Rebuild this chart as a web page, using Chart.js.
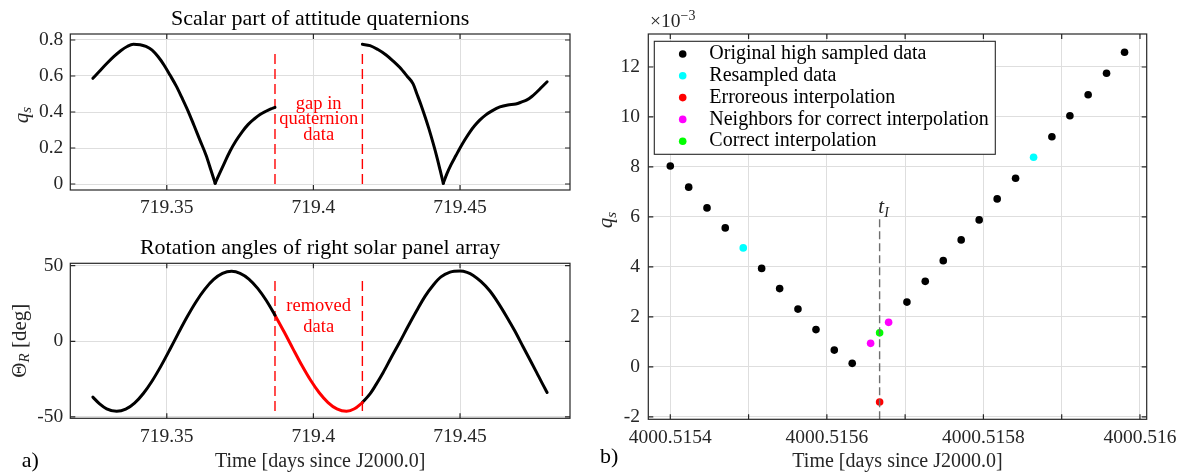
<!DOCTYPE html>
<html>
<head>
<meta charset="utf-8">
<script src="https://cdn.jsdelivr.net/npm/chart.js@4.4.1/dist/chart.umd.min.js"></script>
<style>
  html, body { margin: 0; padding: 0; background: #fff; }
  body { width: 1185px; height: 474px; position: relative; overflow: hidden; }
  .panel { position: absolute; }
</style>
</head>
<body>
<div class="panel" style="left:0;top:0"><canvas id="qsChart" width="600" height="225"></canvas></div>
<div class="panel" style="left:0;top:225px"><canvas id="angChart" width="600" height="249"></canvas></div>
<div class="panel" style="left:580px;top:0"><canvas id="zoomChart" width="605" height="474"></canvas></div>
<script>
const FONT = 'Liberation Serif';
const INK = '#262626';
const GRID = '#dedede';

// ---------- a) upper: scalar part of attitude quaternion (two pieces around the gap)
const qsTimeA = [719.3248, 719.3273, 719.3297, 719.3321, 719.3344, 719.3365, 719.3386, 719.3409,
  719.3429, 719.3450, 719.3470, 719.3491, 719.3511, 719.3532, 719.3552, 719.3573, 719.3593, 719.3613,
  719.3634, 719.3651, 719.3665, 719.3679, 719.3696, 719.3716, 719.3736, 719.3757, 719.3777, 719.3798,
  719.3818, 719.3838, 719.3855, 719.3869];
const qsValA = [0.587, 0.631, 0.672, 0.710, 0.742, 0.764, 0.776, 0.774, 0.764, 0.744, 0.708, 0.660,
  0.605, 0.545, 0.478, 0.404, 0.325, 0.244, 0.160, 0.075, 0.004, 0.055, 0.115, 0.183, 0.240, 0.290,
  0.330, 0.361, 0.386, 0.404, 0.417, 0.426];
const qsTimeB = [719.4167, 719.4193, 719.4220, 719.4248, 719.4272, 719.4295, 719.4319, 719.4340,
  719.4353, 719.4367, 719.4381, 719.4394, 719.4408, 719.4422, 719.4432, 719.4443, 719.4455, 719.4469,
  719.4486, 719.4500, 719.4517, 719.4534, 719.4551, 719.4568, 719.4588, 719.4609, 719.4636, 719.4663,
  719.4690, 719.4711, 719.4728, 719.4745, 719.4762, 719.4779, 719.4797];
const qsValB = [0.776, 0.769, 0.747, 0.717, 0.683, 0.647, 0.600, 0.556, 0.500, 0.439, 0.372, 0.306,
  0.228, 0.144, 0.078, 0.004, 0.056, 0.106, 0.158, 0.200, 0.247, 0.290, 0.326, 0.356, 0.384, 0.406,
  0.428, 0.439, 0.444, 0.456, 0.467, 0.486, 0.511, 0.539, 0.568];
// index of the cusp (|q_s| touches zero) in each piece
const cuspA = 20;
const cuspB = 15;

// ---------- a) lower: rotation angle of right solar array
const angTimeA = [719.3248, 719.3270, 719.3295, 719.3329, 719.3360, 719.3390, 719.3420, 719.3450,
  719.3480, 719.3510, 719.3540, 719.3570, 719.3600, 719.3630, 719.3660, 719.3690, 719.3721, 719.3750,
  719.3780, 719.3810, 719.3840, 719.3869];
const angValA = [-36.9, -41.2, -44.6, -46.3, -44.9, -40.9, -34.5, -26.2, -16.4, -5.6, 5.6, 16.4,
  26.2, 34.5, 40.9, 44.9, 46.3, 45.0, 41.2, 35.0, 26.8, 17.3];
const angTimeGap = [719.3869, 719.3900, 719.3930, 719.3960, 719.3990, 719.4020, 719.4050, 719.4080,
  719.4113, 719.4140, 719.4167];
const angValGap = [17.3, 6.3, -4.8, -15.7, -25.6, -34.0, -40.5, -44.7, -46.3, -44.6, -40.5];
const angTimeB = [719.4167, 719.4193, 719.4213, 719.4238, 719.4264, 719.4295, 719.4322, 719.4352,
  719.4380, 719.4409, 719.4435, 719.4466, 719.4500, 719.4524, 719.4545, 719.4571, 719.4602, 719.4629,
  719.4659, 719.4687, 719.4715, 719.4738, 719.4761, 719.4779, 719.4797];
const angValB = [-40.5, -34.8, -28.8, -20.6, -11.2, -0.3, 9.6, 20.2, 29.6, 37.3, 42.6, 45.8, 46.5,
  45.6, 43.6, 39.6, 33.3, 25.8, 16.3, 6.8, -3.6, -12.0, -20.5, -27.3, -33.8];

const gapStart = 719.3869;
const gapEnd = 719.4167;

const timeTicksA = [719.35, 719.4, 719.45];
const timeLabelsA = ['719.35', '719.4', '719.45'];
const qsTicks = [0, 0.2, 0.4, 0.6, 0.8];
const qsLabels = ['0', '0.2', '0.4', '0.6', '0.8'];
const angTicks = [-50, 0, 50];
const angLabels = ['-50', '0', '50'];

// ---------- b) zoom around the interpolation time (q_s in units of 1e-3)
const origTime = [4000.5154000, 4000.5154235, 4000.5154469, 4000.5154702, 4000.5155167, 4000.5155397,
  4000.5155631, 4000.5155861, 4000.5156095, 4000.5156324, 4000.5157023, 4000.5157257, 4000.5157487,
  4000.5157716, 4000.5157946, 4000.5158176, 4000.5158411, 4000.5158875, 4000.5159105, 4000.5159338,
  4000.5159573, 4000.5159803];
const origVal = [8.04, 7.19, 6.36, 5.56, 3.94, 3.13, 2.31, 1.49, 0.67, 0.14, 2.59, 3.42, 4.25,
  5.08, 5.88, 6.72, 7.55, 9.21, 10.05, 10.89, 11.75, 12.59];
const resTime = [4000.5154932, 4000.5158641];
const resVal = [4.76, 8.39];
const badTime = [4000.5156674];
const badVal = [-1.41];
const nbTime = [4000.5156559, 4000.5156789];
const nbVal = [0.94, 1.78];
const goodTime = [4000.5156674];
const goodVal = [1.36];
const tI = 4000.5156674;

const timeTicksB = [4000.5154, 4000.5155, 4000.5156, 4000.5157, 4000.5158, 4000.5159, 4000.516];
const timeLabelsB = ['4000.5154', '', '4000.5156', '', '4000.5158', '', '4000.516'];
const zoomTicks = [-2, 0, 2, 4, 6, 8, 10, 12];
const zoomLabels = ['-2', '0', '2', '4', '6', '8', '10', '12'];

const pts = (xs, ys) => xs.map((x, i) => ({x: x, y: ys[i]}));

function axis(min, max, ticks, labels, pad, fit) {
  return {
    type: 'linear', min: min, max: max,
    afterBuildTicks: s => { s.ticks = ticks.map(v => ({value: v})); },
    afterFit: fit,
    ticks: {
      autoSkip: false, maxRotation: 0, color: INK, padding: pad,
      font: {family: FONT, size: 19.5},
      callback: (v, i) => labels[i]
    },
    grid: {color: GRID, drawTicks: false, lineWidth: 1},
    border: {display: false}
  };
}

function rich(ctx, x, y, parts, opt) {
  opt = opt || {};
  ctx.save();
  ctx.translate(x, y);
  if (opt.rotate) ctx.rotate(opt.rotate);
  ctx.textBaseline = 'middle';
  ctx.textAlign = 'left';
  ctx.fillStyle = opt.color || INK;
  let w = 0;
  parts.forEach(p => { ctx.font = p.font; w += ctx.measureText(p.text).width; });
  let cx = opt.align === 'left' ? 0 : -w / 2;
  parts.forEach(p => {
    ctx.font = p.font;
    ctx.fillText(p.text, cx, p.dy || 0);
    cx += ctx.measureText(p.text).width;
  });
  ctx.restore();
}
const f = (size, style) => (style ? style + ' ' : '') + size + 'px "' + FONT + '"';

// box round the axes with inward ticks on all four sides (matlab look)
const frame = {
  id: 'frame',
  afterDatasetsDraw(chart) {
    const {ctx, chartArea: a, scales} = chart;
    ctx.save();
    ctx.strokeStyle = INK;
    ctx.lineWidth = 1.2;
    ctx.beginPath();
    scales.x.ticks.forEach(t => {
      const px = scales.x.getPixelForValue(t.value);
      ctx.moveTo(px, a.bottom); ctx.lineTo(px, a.bottom - 5);
      ctx.moveTo(px, a.top); ctx.lineTo(px, a.top + 5);
    });
    scales.y.ticks.forEach(t => {
      const py = scales.y.getPixelForValue(t.value);
      ctx.moveTo(a.left, py); ctx.lineTo(a.left + 5, py);
      ctx.moveTo(a.right, py); ctx.lineTo(a.right - 5, py);
    });
    ctx.stroke();
    ctx.strokeRect(a.left, a.top, a.right - a.left, a.bottom - a.top);
    ctx.restore();
  }
};

function curve(data, color, width) {
  return {data: data, showLine: true, borderColor: color, borderWidth: width, pointRadius: 0,
    cubicInterpolationMode: 'monotone', borderJoinStyle: 'round', borderCapStyle: 'round'};
}
function dashed(x, y0, y1, color, dash) {
  return {data: [{x: x, y: y0}, {x: x, y: y1}], showLine: true, borderColor: color,
    borderWidth: 1.4, borderDash: dash, pointRadius: 0};
}
function dots(label, xs, ys, color) {
  return {label: label, data: pts(xs, ys), showLine: false, pointRadius: 3.8,
    pointBackgroundColor: color, pointBorderColor: color, pointBorderWidth: 0};
}

const common = {
  responsive: false,
  animation: false,
  events: []
};

// ---------- a) upper panel
const qsA = pts(qsTimeA, qsValA);
const qsB = pts(qsTimeB, qsValB);
new Chart(document.getElementById('qsChart'), {
  type: 'scatter',
  data: {datasets: [
    curve(qsA.slice(0, cuspA + 1), '#000', 3),
    curve(qsA.slice(cuspA), '#000', 3),
    curve(qsB.slice(0, cuspB + 1), '#000', 3),
    curve(qsB.slice(cuspB), '#000', 3),
    dashed(gapStart, 0, 0.75, '#ff0000', [10, 5]),
    dashed(gapEnd, 0, 0.75, '#ff0000', [10, 5])
  ]},
  options: Object.assign({}, common, {
    layout: {padding: {left: 0, right: 30, top: 0, bottom: 0}},
    plugins: {
      legend: {display: false},
      tooltip: {enabled: false},
      title: {display: true, fullSize: false, text: 'Scalar part of attitude quaternions', color: '#000',
        font: {family: FONT, size: 22, weight: 'normal'}, padding: {top: 5.8, bottom: 1.8}}
    },
    scales: {
      x: axis(719.3171, 719.4875, timeTicksA, timeLabelsA, 6.5, s => { s.height = 35; }),
      y: axis(-0.0333, 0.8333, qsTicks, qsLabels, 7, s => { s.width = 70.3; })
    }
  }),
  plugins: [frame, {
    id: 'qsText',
    afterDraw(chart) {
      const {ctx, scales: {x, y}} = chart;
      rich(ctx, 22.5, 115, [{text: 'q', font: f(21, 'italic')}, {text: 's', font: f(15, 'italic'), dy: 5}],
        {rotate: -Math.PI / 2});
      const mx = x.getPixelForValue((gapStart + gapEnd) / 2);
      [['gap in', 0.445], ['quaternion', 0.361], ['data', 0.274]].forEach(l => {
        rich(ctx, mx, y.getPixelForValue(l[1]), [{text: l[0], font: f(18.5)}], {color: '#ff0000'});
      });
    }
  }]
});

// ---------- a) lower panel
new Chart(document.getElementById('angChart'), {
  type: 'scatter',
  data: {datasets: [
    curve(pts(angTimeA, angValA), '#000', 3),
    curve(pts(angTimeGap, angValGap), '#ff0000', 3),
    curve(pts(angTimeB, angValB), '#000', 3),
    dashed(gapStart, -46, 42.7, '#ff0000', [10, 5]),
    dashed(gapEnd, -46, 42.7, '#ff0000', [10, 5])
  ]},
  options: Object.assign({}, common, {
    layout: {padding: {left: 0, right: 30, top: 0, bottom: 0}},
    plugins: {
      legend: {display: false},
      tooltip: {enabled: false},
      title: {display: true, fullSize: false, text: 'Rotation angles of right solar panel array', color: '#000',
        font: {family: FONT, size: 22, weight: 'normal'}, padding: {top: 10.1, bottom: 1.8}}
    },
    scales: {
      x: Object.assign(axis(719.3171, 719.4875, timeTicksA, timeLabelsA, 6.7, s => { s.height = 55.7; }), {
        title: {display: true, text: 'Time [days since J2000.0]', color: INK,
          font: {family: FONT, size: 20}, padding: {top: 0, bottom: 0}}
      }),
      y: axis(-50.9, 51.6, angTicks, angLabels, 7, s => { s.width = 70.3; })
    }
  }),
  plugins: [frame, {
    id: 'angText',
    afterDraw(chart) {
      const {ctx, scales: {x, y}} = chart;
      rich(ctx, 20, 115.7, [
        {text: 'Θ', font: f(21)}, {text: 'R', font: f(15, 'italic'), dy: 5}, {text: ' [deg]', font: f(21)}
      ], {rotate: -Math.PI / 2});
      const mx = x.getPixelForValue((gapStart + gapEnd) / 2);
      [['removed', 23.5], ['data', 9.6]].forEach(l => {
        rich(ctx, mx, y.getPixelForValue(l[1]), [{text: l[0], font: f(18.5)}], {color: '#ff0000'});
      });
      rich(ctx, 21.7, 236, [{text: 'a)', font: f(22)}], {align: 'left', color: '#000'});
    }
  }]
});

// ---------- b) zoomed view
const zoomLegend = {
  id: 'zoomLegend',
  afterDatasetsDraw(chart) {
    const ctx = chart.ctx;
    const box = {left: 74.3, top: 41.3, right: 415.3, bottom: 154.3};
    ctx.save();
    ctx.fillStyle = '#fff';
    ctx.fillRect(box.left, box.top, box.right - box.left, box.bottom - box.top);
    ctx.strokeStyle = INK;
    ctx.lineWidth = 1.1;
    ctx.strokeRect(box.left, box.top, box.right - box.left, box.bottom - box.top);
    const items = chart.data.datasets.filter(d => d.label);
    items.forEach((d, i) => {
      const cy = 54 + i * 21.8;
      ctx.beginPath();
      ctx.arc(102.7, cy, 3.8, 0, Math.PI * 2);
      ctx.fillStyle = d.pointBackgroundColor;
      ctx.fill();
      rich(ctx, 129.3, cy, [{text: d.label, font: f(20)}], {align: 'left', color: '#000'});
    });
    ctx.restore();
  }
};

new Chart(document.getElementById('zoomChart'), {
  type: 'scatter',
  data: {datasets: [
    dashed(tI, -2.1, 5.96, '#6e6e6e', [8, 4]),
    dots('Original high sampled data', origTime, origVal, '#000000'),
    dots('Resampled data', resTime, resVal, '#00ffff'),
    dots('Erroreous interpolation', badTime, badVal, '#ff0000'),
    dots('Neighbors for correct interpolation', nbTime, nbVal, '#ff00ff'),
    dots('Correct interpolation', goodTime, goodVal, '#00ff00')
  ]},
  options: Object.assign({}, common, {
    layout: {padding: {left: 0, right: 38.3, top: 34, bottom: 0}},
    plugins: {legend: {display: false}, tooltip: {enabled: false}},
    scales: {
      x: Object.assign(axis(4000.5153719, 4000.5160086, timeTicksB, timeLabelsB, 7.3, s => { s.height = 54.7; }), {
        title: {display: true, text: 'Time [days since J2000.0]', color: INK,
          font: {family: FONT, size: 20}, padding: {top: 0, bottom: 0}}
      }),
      y: axis(-2.1, 13.32, zoomTicks, zoomLabels, 8.3, s => { s.width = 68.3; })
    }
  }),
  plugins: [frame, zoomLegend, {
    id: 'zoomText',
    afterDraw(chart) {
      const {ctx, scales: {x, y}} = chart;
      rich(ctx, 26.7, 220, [{text: 'q', font: f(21, 'italic')}, {text: 's', font: f(15, 'italic'), dy: 5}],
        {rotate: -Math.PI / 2});
      rich(ctx, 70, 22, [{text: '×10', font: f(19.5)}, {text: '−3', font: f(14), dy: -6}], {align: 'left'});
      rich(ctx, x.getPixelForValue(tI) + 4, y.getPixelForValue(6.36),
        [{text: 't', font: f(21, 'italic')}, {text: 'I', font: f(14, 'italic'), dy: 5}]);
      rich(ctx, 20, 457.5, [{text: 'b)', font: f(22)}], {align: 'left', color: '#000'});
    }
  }]
});
</script>
</body>
</html>
